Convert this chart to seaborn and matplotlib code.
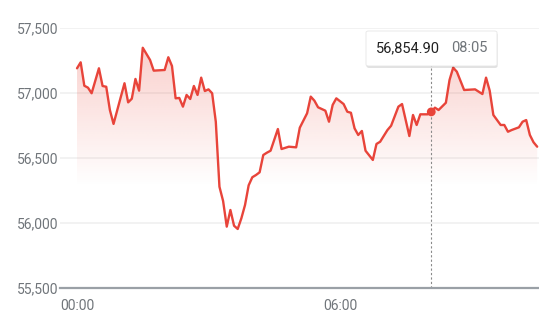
import numpy as np
import pandas as pd
import matplotlib
matplotlib.use("Agg")
import matplotlib.pyplot as plt
import seaborn as sns
from matplotlib.patches import FancyBboxPatch

times = ["00:00", "00:05", "00:10", "00:15", "00:20", "00:30", "00:35", "00:40", "00:45", "00:50",
         "01:05", "01:10", "01:15", "01:20", "01:25", "01:30", "01:40", "01:45", "02:00", "02:05",
         "02:10", "02:15", "02:20", "02:25", "02:30", "02:35", "02:40", "02:45", "02:50", "02:55",
         "03:00", "03:05", "03:10", "03:15", "03:20", "03:25", "03:30", "03:35", "03:40", "03:45",
         "03:50", "03:55", "04:00", "04:05", "04:10", "04:15", "04:20", "04:25", "04:35", "04:40",
         "04:50", "05:00", "05:05", "05:15", "05:20", "05:25", "05:30", "05:40", "05:45", "05:50",
         "05:55", "06:05", "06:10", "06:15", "06:20", "06:25", "06:30", "06:35", "06:45", "06:50",
         "06:55", "07:05", "07:10", "07:20", "07:25", "07:35", "07:40", "07:45", "07:50", "08:00",
         "08:05", "08:10", "08:15", "08:25", "08:30", "08:35", "08:40", "08:50", "09:05", "09:15",
         "09:20", "09:25", "09:30", "09:40", "09:45", "09:50", "09:55", "10:05", "10:10", "10:15",
         "10:20", "10:25", "10:30"]
prices = [57190, 57236, 57056, 57041, 56998, 57190, 57054, 57048, 56869, 56762,
          57075, 56928, 56956, 57108, 57018, 57348, 57254, 57172, 57177, 57275,
          57208, 56959, 56962, 56895, 56985, 56954, 57054, 56985, 57118, 57015,
          57028, 56998, 56779, 56279, 56169, 55972, 56100, 55979, 55954, 56036,
          56138, 56290, 56352, 56369, 56390, 56523, 56541, 56556, 56723, 56569,
          56587, 56582, 56733, 56844, 56972, 56941, 56890, 56864, 56779, 56908,
          56959, 56915, 56856, 56848, 56728, 56677, 56708, 56556, 56485, 56608,
          56625, 56715, 56748, 56895, 56915, 56669, 56831, 56754, 56836, 56836,
          56854.90, 56887, 56869, 56925, 57100, 57195, 57164, 57023, 57028, 56992,
          57118, 57018, 56831, 56754, 56754, 56702, 56715, 56736, 56779, 56792,
          56677, 56621, 56587]
y_ticks = [55500, 56000, 56500, 57000, 57500]
x_ticks = ["00:00", "06:00"]
hover_time = "08:05"
hover_price = 56854.90


def to_min(t):
    h, m = t.split(":")
    return int(h) * 60 + int(m)


df = pd.DataFrame({"t": [to_min(t) for t in times], "price": prices})

sns.set_style("white")
plt.rcParams["font.family"] = ["Roboto", "DejaVu Sans"]
fig = plt.figure(figsize=(5.39, 3.20), dpi=100)
ax = fig.add_axes([60 / 539, 32 / 320, 479 / 539, 260 / 320])

line_color = "#e8443a"

# gradient fill under the line
xlim = (-23.3, 632.5)
ylim = (55500, 57500)
fill = ax.fill_between(df["t"], df["price"], ylim[0], color="none", lw=0)
ys = np.linspace(ylim[0], ylim[1], 300)
alpha = np.clip((ys - 56280) / (57350 - 56280), 0, 1) * 0.25
img = np.zeros((300, 1, 4))
img[:, 0, 0] = 234 / 255
img[:, 0, 1] = 67 / 255
img[:, 0, 2] = 53 / 255
img[:, 0, 3] = alpha
im = ax.imshow(img, extent=[xlim[0], xlim[1], ylim[0], ylim[1]], origin="lower",
               aspect="auto", zorder=1, interpolation="bilinear")
path = fill.get_paths()[0]
im.set_clip_path(path, transform=ax.transData)

sns.lineplot(data=df, x="t", y="price", ax=ax, color=line_color, lw=1.7, zorder=3)

ax.set_xlim(*xlim)
ax.set_ylim(*ylim)
ax.set_xlabel("")
ax.set_ylabel("")

ax.set_yticks(y_ticks)
ax.set_yticklabels([f"{v:,}" for v in y_ticks])
ax.set_xticks([to_min(t) for t in x_ticks])
ax.set_xticklabels(x_ticks)
ax.tick_params(axis="y", length=0, pad=1, labelsize=10, labelcolor="#70757a")
ax.tick_params(axis="x", length=6, width=1, color="#9aa0a6", pad=2, labelsize=10,
               labelcolor="#70757a")

for y in y_ticks[1:]:
    ax.axhline(y, color="#f1f1f1", lw=1.3, zorder=0)

for s in ["top", "right", "left"]:
    ax.spines[s].set_visible(False)
ax.spines["bottom"].set_color("#9aa0a6")
ax.spines["bottom"].set_linewidth(1.6)

# hover marker
hx = to_min(hover_time)
ax.plot([hx, hx], [ylim[0], 57265], ls=(0, (2, 2)), color="#8a8a8a", lw=0.8, zorder=2)
ax.scatter([hx], [hover_price], s=40, color=line_color, zorder=4, edgecolor="none")

# tooltip
bx, by, bw, bh = 366 / 539, (320 - 66) / 320, 131 / 539, 35 / 320
shadow = FancyBboxPatch((bx + 0.001, by - 0.006), bw, bh, boxstyle="round,pad=0,rounding_size=0.005",
                        transform=fig.transFigure, facecolor="#000000", alpha=0.12,
                        edgecolor="none", zorder=5)
box = FancyBboxPatch((bx, by), bw, bh, boxstyle="round,pad=0,rounding_size=0.005",
                     transform=fig.transFigure, facecolor="white",
                     edgecolor="#e6e6e6", lw=0.6, zorder=6)
fig.patches.extend([shadow, box])
fig.text(376 / 539, (320 - 48.5) / 320, f"{hover_price:,.2f}", fontsize=10.5, color="#222222",
         va="center", ha="left", zorder=7)
fig.text(488 / 539, (320 - 48.5) / 320, hover_time, fontsize=10.5, color="#70757a",
         va="center", ha="right", zorder=7)

fig.savefig("out.png", dpi=100)
